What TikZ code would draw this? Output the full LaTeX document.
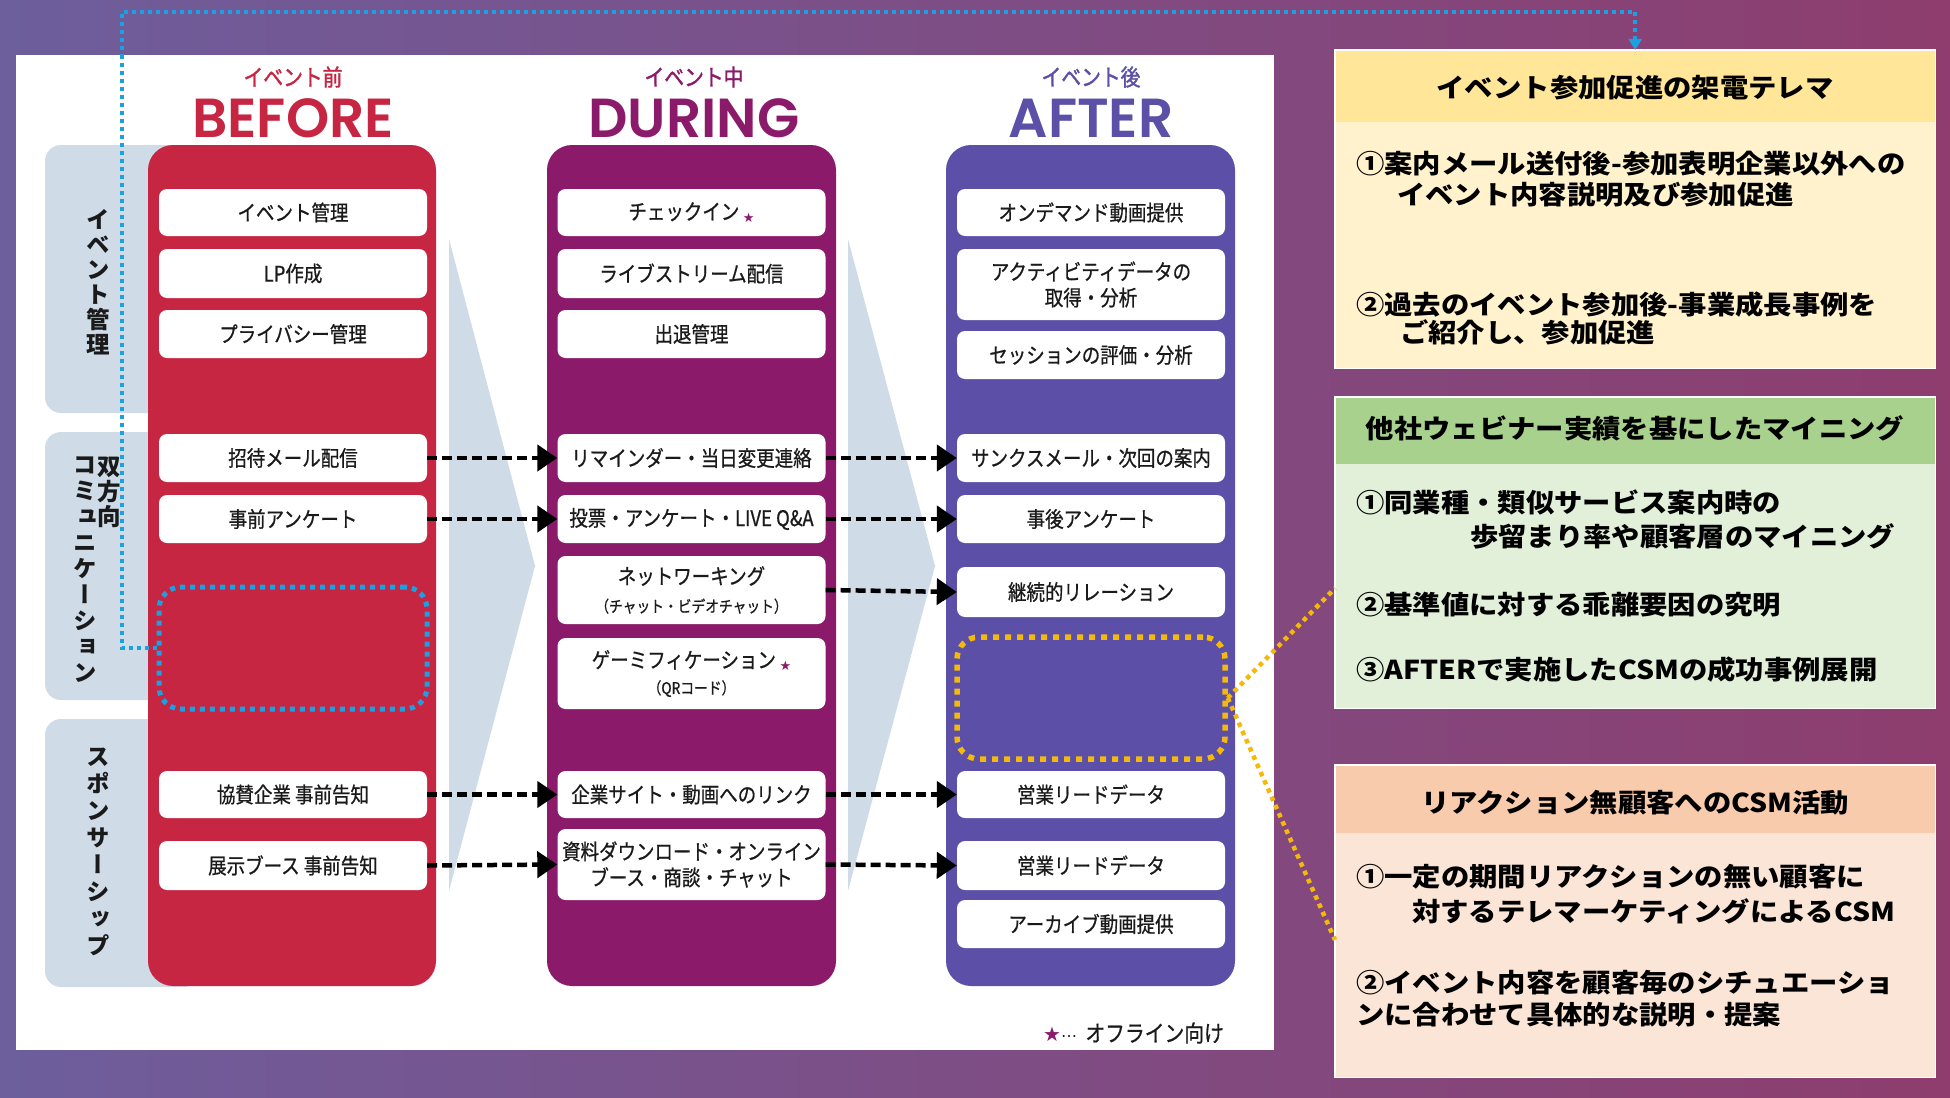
\documentclass[tikz,border=0pt]{standalone}
\usepackage{fontspec}
\usetikzlibrary{arrows.meta,calc}
\setmainfont{Noto Sans CJK JP}
\newfontfamily\jp[FakeStretch=0.86,FakeBold=0.7]{Noto Sans CJK JP}
\newfontfamily\jph[FakeStretch=0.86,FakeBold=1.4]{Noto Sans CJK JP}
\newfontfamily\jpw[FakeStretch=1.09]{Noto Sans CJK JP}
\newfontfamily\jpv[RawFeature={+vert}]{Noto Sans CJK JP}
\newfontfamily\sym{DejaVu Sans}
\IfFontExistsTF{Poppins SemiBold}{\newfontfamily\pop{Poppins SemiBold}}{\newfontfamily\pop{Poppins}}
\definecolor{bef}{HTML}{C62642}
\definecolor{dur}{HTML}{8B1A6B}
\definecolor{aft}{HTML}{5B4FA8}
\definecolor{lab}{HTML}{CFDCE8}
\definecolor{bgl}{HTML}{6D5E9C}
\definecolor{bgr}{HTML}{8E3D6E}
\definecolor{sky}{HTML}{1BA1E2}
\definecolor{gold}{HTML}{F5B90A}
\definecolor{yh}{HTML}{FFE699}
\definecolor{yb}{HTML}{FFF2CC}
\definecolor{gh}{HTML}{A9D18E}
\definecolor{gb}{HTML}{E2EFD9}
\definecolor{oh}{HTML}{F8CBAD}
\definecolor{ob}{HTML}{FBE5D6}
\definecolor{ink}{HTML}{1A1A1A}
\newcommand{\ostar}{{\sym\color{dur}\fontsize{13}{13}\selectfont\raisebox{-3pt}{★}}}
\begin{document}
\begin{tikzpicture}[x=1pt,y=-1pt,
  wbox/.style={fill=white, rounded corners=8, minimum width=268, inner sep=0, align=center, text=ink,
    font=\jp\fontsize{21.5}{26}\selectfont},
  vlab/.style={align=center, inner sep=0, text=ink},
  flow/.style={draw=black, line width=4.5, dash pattern=on 10 off 5, -{Triangle[length=20pt,width=26pt]}},
  bluedot/.style={draw=sky, line width=4, dash pattern=on 4 off 4},
  golddot/.style={draw=gold, line width=4.5, dash pattern=on 4.5 off 4.5},
  phase/.style={font=\jph\fontsize{23}{23}\selectfont, inner sep=0},
  big/.style={font=\pop\fontsize{55}{55}\selectfont, anchor=base, inner sep=0},
  rbox/.style={fill=#1, minimum width=600, inner sep=0, anchor=north west},
  rtext/.style={anchor=west, inner sep=0, text=black, font=\jpw\bfseries\fontsize{26}{30}\selectfont, text height=22, text depth=4},
  rtitle/.style={inner sep=0, text=black, font=\jpw\bfseries\fontsize{26}{30}\selectfont}
]
\useasboundingbox (0,0) rectangle (1950,1097);
\shade[left color=bgl, right color=bgr] (0,0) rectangle (1950,1097);
\fill[white] (16,55) rectangle (1274,1050);

% side label panels
\fill[lab, rounded corners=16] (45,145) rectangle (200,413);
\fill[lab, rounded corners=16] (45,432) rectangle (200,700);
\fill[lab, rounded corners=16] (45,719) rectangle (200,987);
% chevrons
\fill[lab] (449,239) -- (535,566) -- (449,891) -- cycle;
\fill[lab] (848,239) -- (935,566) -- (848,891) -- cycle;
% columns
\fill[bef, rounded corners=25] (148,145) rectangle (436,986);
\fill[dur, rounded corners=25] (547,145) rectangle (836,986);
\fill[aft, rounded corners=25] (946,145) rectangle (1235,986);

% vertical labels
\node[vlab, font=\jpv\bfseries\fontsize{23.5}{25}\selectfont] (l1) at (98,282) {イ\\ベ\\ン\\ト\\管\\理};
\node[vlab, font=\jpv\bfseries\fontsize{23.5}{25}\selectfont] (l2a) at (109,492) {双\\方\\向};
\node[vlab, font=\jpv\bfseries\fontsize{23.5}{26}\selectfont] (l2b) at (85,570) {コ\\ミ\\ュ\\ニ\\ケ\\ー\\シ\\ョ\\ン};
\node[vlab, font=\jpv\bfseries\fontsize{23.5}{27}\selectfont] (l3) at (98,852) {ス\\ポ\\ン\\サ\\ー\\シ\\ッ\\プ};

% headers
\node[phase, text=bef] (hb1) at (293,77) {イベント前};
\node[big, text=bef] (hb2) at (293,137) {BEFORE};
\node[phase, text=dur] (hd1) at (694,77) {イベント中};
\node[big, text=dur] (hd2) at (694,137) {DURING};
\node[phase, text=aft] (ha1) at (1091,77) {イベント後};
\node[big, text=aft] (ha2) at (1091,137) {AFTER};

% BEFORE boxes
\node[wbox, minimum height=47] (b1) at (293,212.5) {イベント管理};
\node[wbox, minimum height=49] (b2) at (293,273.5) {LP作成};
\node[wbox, minimum height=48] (b3) at (293,334) {プライバシー管理};
\node[wbox, minimum height=48] (b4) at (293,458) {招待メール配信};
\node[wbox, minimum height=48] (b5) at (293,519) {事前アンケート};
\node[draw=sky, line width=5, dash pattern=on 5 off 5, rounded corners=22, minimum width=268, minimum height=122, inner sep=0] (bdot) at (293,648) {};
\node[wbox, minimum height=47] (b6) at (293,794.5) {協賛企業 事前告知};
\node[wbox, minimum height=49] (b7) at (293,865.5) {展示ブース 事前告知};

% DURING boxes
\node[wbox, minimum height=47] (d1) at (691.5,212.5) {チェックイン\,\ostar};
\node[wbox, minimum height=49] (d2) at (691.5,273.5) {ライブストリーム配信};
\node[wbox, minimum height=48] (d3) at (691.5,334) {出退管理};
\node[wbox, minimum height=48] (d4) at (691.5,458) {リマインダー・当日変更連絡};
\node[wbox, minimum height=48] (d5) at (691.5,519) {投票・アンケート・LIVE Q\&A};
\node[wbox, minimum height=68, font=\jp\fontsize{21.5}{28}\selectfont] (d6) at (691.5,590) {ネットワーキング\\{\fontsize{16}{16}\selectfont （チャット・ビデオチャット）}};
\node[wbox, minimum height=71] (d7) at (691.5,673.5) {ゲーミフィケーション\,\ostar\\{\fontsize{16}{16}\selectfont （QRコード）}};
\node[wbox, minimum height=47] (d8) at (691.5,794.5) {企業サイト・動画へのリンク};
\node[wbox, minimum height=71] (d9) at (691.5,864.5) {資料ダウンロード・オンライン\\ブース・商談・チャット};

% AFTER boxes
\node[wbox, minimum height=47] (a1) at (1091,212.5) {オンデマンド動画提供};
\node[wbox, minimum height=71] (a2) at (1091,284.5) {アクティビティデータの\\取得・分析};
\node[wbox, minimum height=48] (a3) at (1091,355) {セッションの評価・分析};
\node[wbox, minimum height=48] (a4) at (1091,458) {サンクスメール・次回の案内};
\node[wbox, minimum height=48] (a5) at (1091,519) {事後アンケート};
\node[wbox, minimum height=50] (a6) at (1091,592) {継続的リレーション};
\node[draw=gold, line width=5.5, dash pattern=on 6 off 6, rounded corners=22, minimum width=268, minimum height=122, inner sep=0] (adot) at (1091,698) {};
\node[wbox, minimum height=47] (a7) at (1091,794.5) {営業リードデータ};
\node[wbox, minimum height=49] (a8) at (1091,865.5) {営業リードデータ};
\node[wbox, minimum height=48] (a9) at (1091,924) {アーカイブ動画提供};

% flow arrows
\draw[flow] (b4.east) -- (d4.west);
\draw[flow] (b5.east) -- (d5.west);
\draw[flow] (b6.east) -- (d8.west);
\draw[flow] (b7.east) -- (d9.west);
\draw[flow] (d4.east) -- (a4.west);
\draw[flow] (d5.east) -- (a5.west);
\draw[flow] (d6.east) -- (a6.west);
\draw[flow] (d8.east) -- (a7.west);
\draw[flow] (d9.east) -- (a8.west);

% legend
\node[anchor=west, inner sep=0, text=ink, font=\jp\fontsize{23}{23}\selectfont] (leg) at (1043,1033) {{\sym\color{dur}\fontsize{20}{20}\selectfont ★}{\sym\fontsize{16}{16}\selectfont ⋯}\, オフライン向け};

% right panels
\node[rbox=yb, minimum height=318] (ybox) at (1335,50) {};
\fill[yh] (ybox.north west) rectangle ($(ybox.north east)+(0,72)$);
\draw[white, line width=1.5] (ybox.north west) rectangle (ybox.south east);
\node[rtitle] (yt) at (1635,88) {イベント参加促進の架電テレマ};
\node[rtext] (y1a) at (1356,164) {①案内メール送付後-参加表明企業以外への};
\node[rtext] (y1b) at (1397,195) {イベント内容説明及び参加促進};
\node[rtext] (y2a) at (1356,305) {②過去のイベント参加後-事業成長事例を};
\node[rtext] (y2b) at (1400,333) {ご紹介し、参加促進};

\node[rbox=gb, minimum height=311] (gbox) at (1335,397) {};
\fill[gh] (gbox.north west) rectangle ($(gbox.north east)+(0,67)$);
\draw[white, line width=1.5] (gbox.north west) rectangle (gbox.south east);
\node[rtitle] (gt) at (1635,428) {他社ウェビナー実績を基にしたマイニング};
\node[rtext] (g1a) at (1356,503) {①同業種・類似サービス案内時の};
\node[rtext] (g1b) at (1470,537) {歩留まり率や顧客層のマイニング};
\node[rtext] (g2) at (1356,605) {②基準値に対する乖離要因の究明};
\node[rtext] (g3) at (1356,670) {③AFTERで実施したCSMの成功事例展開};

\node[rbox=ob, minimum height=312] (obox) at (1335,765) {};
\fill[oh] (obox.north west) rectangle ($(obox.north east)+(0,68)$);
\draw[white, line width=1.5] (obox.north west) rectangle (obox.south east);
\node[rtitle] (ot) at (1635,803) {リアクション無顧客へのCSM活動};
\node[rtext] (o1a) at (1356,877) {①一定の期間リアクションの無い顧客に};
\node[rtext] (o1b) at (1412,912) {対するテレマーケティングによるCSM};
\node[rtext] (o2a) at (1356,983) {②イベント内容を顧客毎のシチュエーショ};
\node[rtext] (o2b) at (1356,1015) {ンに合わせて具体的な説明・提案};

% dotted connectors
\coordinate (bturn) at (122,12);
\draw[bluedot, -{Triangle[length=11pt,width=13pt]}] (bdot.west) -| (bturn) -| (ybox.north);
\draw[golddot] (adot.east) -- ($(gbox.north west)!0.614!(gbox.south west)$);
\draw[golddot] (adot.east) -- ($(obox.north west)!0.56!(obox.south west)$);
\end{tikzpicture}
\end{document}
